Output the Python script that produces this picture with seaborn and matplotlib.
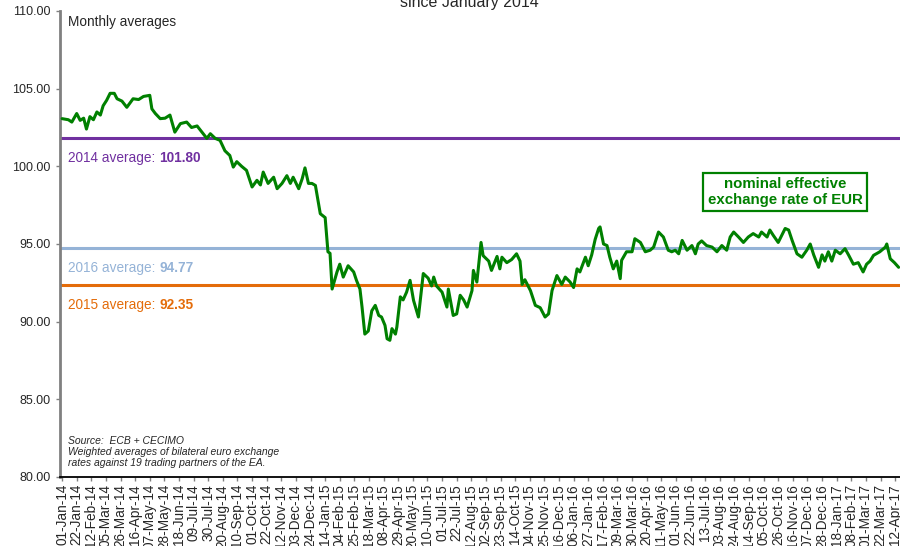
import matplotlib
matplotlib.use("Agg")
import matplotlib.pyplot as plt
import matplotlib.dates as mdates
from matplotlib.ticker import FormatStrFormatter
import seaborn as sns
import pandas as pd

# ---------------- data ----------------
dates = [
    "2014-01-01", "2014-01-10", "2014-01-15", "2014-01-22", "2014-01-27", "2014-02-01", "2014-02-05",
    "2014-02-10", "2014-02-15", "2014-02-20", "2014-02-25", "2014-03-01", "2014-03-06", "2014-03-11",
    "2014-03-17", "2014-03-21", "2014-03-28", "2014-04-04", "2014-04-09", "2014-04-13", "2014-04-21",
    "2014-04-28", "2014-05-07", "2014-05-10", "2014-05-15", "2014-05-22", "2014-05-29", "2014-06-05",
    "2014-06-12", "2014-06-20", "2014-06-29", "2014-07-06", "2014-07-14", "2014-07-21", "2014-07-28",
    "2014-08-02", "2014-08-09", "2014-08-16", "2014-08-23", "2014-08-30", "2014-09-04", "2014-09-09",
    "2014-09-16", "2014-09-23", "2014-10-01", "2014-10-08", "2014-10-13", "2014-10-17", "2014-10-24",
    "2014-11-01", "2014-11-06", "2014-11-13", "2014-11-20", "2014-11-25", "2014-11-29", "2014-12-07",
    "2014-12-12", "2014-12-16", "2014-12-21", "2014-12-26", "2014-12-31",
    "2015-01-07", "2015-01-14", "2015-01-18", "2015-01-21", "2015-01-24", "2015-01-31", "2015-02-04",
    "2015-02-09", "2015-02-16", "2015-02-24", "2015-02-28", "2015-03-05", "2015-03-08", "2015-03-12",
    "2015-03-17", "2015-03-22", "2015-03-27", "2015-04-01", "2015-04-05", "2015-04-10", "2015-04-13",
    "2015-04-17", "2015-04-20", "2015-04-25", "2015-04-27", "2015-05-02", "2015-05-06", "2015-05-11",
    "2015-05-16", "2015-05-21", "2015-05-28", "2015-06-04", "2015-06-11", "2015-06-16", "2015-06-19",
    "2015-06-23", "2015-07-01", "2015-07-08", "2015-07-10", "2015-07-17", "2015-07-22", "2015-07-27",
    "2015-08-01", "2015-08-06", "2015-08-13", "2015-08-15", "2015-08-20", "2015-08-26", "2015-08-29",
    "2015-09-06", "2015-09-10", "2015-09-18", "2015-09-22", "2015-09-25", "2015-10-02", "2015-10-09",
    "2015-10-16", "2015-10-21", "2015-10-24", "2015-10-28", "2015-11-05", "2015-11-12", "2015-11-19",
    "2015-11-26", "2015-12-01", "2015-12-06", "2015-12-13", "2015-12-20", "2015-12-25",
    "2016-01-01", "2016-01-06", "2016-01-11", "2016-01-15", "2016-01-23", "2016-01-27", "2016-02-01",
    "2016-02-06", "2016-02-11", "2016-02-13", "2016-02-18", "2016-02-23", "2016-02-27", "2016-03-03",
    "2016-03-08", "2016-03-13", "2016-03-15", "2016-03-22", "2016-03-30", "2016-04-03", "2016-04-11",
    "2016-04-18", "2016-04-25", "2016-04-30", "2016-05-07", "2016-05-14", "2016-05-21", "2016-05-26",
    "2016-05-31", "2016-06-05", "2016-06-10", "2016-06-17", "2016-06-24", "2016-06-29", "2016-07-03",
    "2016-07-08", "2016-07-15", "2016-07-23", "2016-07-30", "2016-08-06", "2016-08-13", "2016-08-18",
    "2016-08-23", "2016-08-30", "2016-09-06", "2016-09-13", "2016-09-20", "2016-09-28", "2016-10-02",
    "2016-10-10", "2016-10-14", "2016-10-19", "2016-10-26", "2016-10-31", "2016-11-05", "2016-11-10",
    "2016-11-15", "2016-11-22", "2016-11-29", "2016-12-06", "2016-12-11", "2016-12-16", "2016-12-23",
    "2016-12-28",
    "2017-01-01", "2017-01-06", "2017-01-11", "2017-01-16", "2017-01-23", "2017-01-30", "2017-02-04",
    "2017-02-11", "2017-02-18", "2017-02-25", "2017-03-02", "2017-03-07", "2017-03-12", "2017-03-21",
    "2017-03-29", "2017-03-31", "2017-04-05", "2017-04-11", "2017-04-17",
]
neer = [
    103.07, 103.0, 102.85, 103.4, 102.96, 103.1, 102.4,
    103.2, 103.0, 103.5, 103.3, 103.9, 104.25, 104.7,
    104.7, 104.35, 104.2, 103.8, 104.1, 104.35, 104.3,
    104.5, 104.57, 103.7, 103.4, 103.07, 103.1, 103.3,
    102.2, 102.75, 102.85, 102.5, 102.6, 102.2, 101.8,
    102.1, 101.8, 101.67, 101.0, 100.7, 99.95, 100.3,
    100.0, 99.74, 98.67, 99.1, 98.8, 99.63, 98.9,
    99.3, 98.56, 98.9, 99.4, 98.9, 99.3, 98.56,
    99.2, 99.9, 98.9, 98.9, 98.77,
    96.95, 96.7, 94.5, 94.4, 92.1, 93.2, 93.7,
    92.87, 93.6, 93.2, 92.66, 92.1, 90.94, 89.2,
    89.4, 90.7, 91.05, 90.4, 90.3, 89.76, 88.9,
    88.8, 89.55, 89.2, 89.65, 91.6, 91.4, 91.9,
    92.66, 91.37, 90.3, 93.1, 92.8, 92.3, 92.87,
    92.3, 91.9, 90.94, 92.1, 90.4, 90.5, 91.7,
    91.4, 90.94, 92.0, 93.3, 92.55, 95.1, 94.25,
    93.9, 93.3, 94.2, 93.4, 94.15, 93.8, 94.0,
    94.37, 93.9, 92.4, 92.7, 92.0, 91.05, 90.9,
    90.3, 90.5, 92.0, 92.97, 92.4, 92.87,
    92.55, 92.2, 93.4, 93.2, 94.15, 93.6, 94.3,
    95.3, 96.0, 96.1, 95.0, 94.9, 94.15, 93.4,
    93.9, 92.77, 93.95, 94.5, 94.5, 95.34, 95.1,
    94.5, 94.6, 94.8, 95.77, 95.45, 94.6, 94.5,
    94.6, 94.37, 95.23, 94.6, 94.9, 94.37, 95.0,
    95.2, 94.9, 94.8, 94.5, 94.9, 94.6, 95.45,
    95.77, 95.45, 95.1, 95.45, 95.67, 95.45, 95.77,
    95.45, 95.9, 95.55, 95.1, 95.55, 96.0, 95.9,
    95.23, 94.37, 94.15, 94.6, 95.0, 94.3, 93.5,
    94.3,
    93.9, 94.5, 93.9, 94.6, 94.37, 94.7, 94.3,
    93.7, 93.8, 93.2, 93.7, 93.9, 94.27, 94.5,
    94.8, 95.0, 94.05, 93.8, 93.5,
]
avg_years = ["2014", "2016", "2015"]
avg_values = [101.80, 94.77, 92.35]
avg_colors = ["#7030A0", "#95B3D7", "#E46C0A"]

title_text = "since January 2014"
note_text = "Monthly averages"
box_text = "nominal effective\nexchange rate of EUR"
source_text = ("Source:  ECB + CECIMO\nWeighted averages of bilateral euro exchange\n"
               "rates against 19 trading partners of the EA.")

# ---------------- plot ----------------
sns.set_style("white")
plt.rcParams["font.family"] = ["Liberation Sans", "DejaVu Sans"]

fig = plt.figure(figsize=(9, 5.46), dpi=100)
ax = fig.add_axes([60 / 900, 1 - 477 / 546, 840 / 900, 466 / 546])

for val, col in zip(avg_values, avg_colors):
    ax.axhline(val, color=col, lw=2.2, zorder=2)

df = pd.DataFrame({"date": pd.to_datetime(dates), "value": neer})
sns.lineplot(data=df, x="date", y="value", color="#008000", lw=2.2, ax=ax, zorder=3)

ax.set_ylim(80, 110)
ax.set_yticks(range(80, 111, 5))
ax.yaxis.set_major_formatter(FormatStrFormatter("%.2f"))
ax.set_xlim(pd.Timestamp("2013-12-29"), pd.Timestamp("2017-04-19"))
ax.set_xticks(pd.date_range("2014-01-01", "2017-04-12", freq="21D"))
ax.xaxis.set_major_formatter(mdates.DateFormatter("%d-%b-%y"))
ax.set_xlabel("")
ax.set_ylabel("")

for s in ["top", "right"]:
    ax.spines[s].set_visible(False)
ax.spines["left"].set_color("#808080")
ax.spines["left"].set_linewidth(2)
ax.spines["bottom"].set_color("black")
ax.spines["bottom"].set_linewidth(1.3)

ax.tick_params(axis="y", left=True, length=3, color="#808080", width=1, pad=4, labelsize=9)
ax.tick_params(axis="x", bottom=True, length=3, color="#808080", width=1, pad=2, labelsize=9.8,
               labelrotation=90)

fig.text(469 / 900, 1 - 7 / 546, title_text, ha="center", va="baseline", fontsize=11.5)

ax.text(8 / 840, (477 - 22) / 466, note_text, transform=ax.transAxes, ha="left", va="center",
        fontsize=9.8)

for yr, val, col in zip(avg_years, avg_values, avg_colors):
    t1 = ax.annotate(f"{yr} average: ", xy=(8 / 840, val), xycoords=ax.get_yaxis_transform(),
                     xytext=(0, -20), textcoords="offset pixels", ha="left", va="center",
                     fontsize=9.8, color=col)
    ax.annotate(f"{val:.2f}", xy=(1, 0), xycoords=t1, ha="left", va="bottom",
                fontsize=9.8, color=col, fontweight="bold")

ax.text((785 - 60) / 840, (477 - 192) / 466, box_text, transform=ax.transAxes, ha="center",
        va="center", fontsize=10.8, fontweight="bold", color="#008000", linespacing=1.1,
        bbox=dict(boxstyle="square,pad=0.3", fc="white", ec="#008000", lw=1.6), zorder=5)

ax.text(8 / 840, (477 - 452) / 466, source_text, transform=ax.transAxes, ha="left",
        va="center", fontsize=7.5, style="italic", linespacing=1.15)

fig.savefig("out.png", dpi=100)
